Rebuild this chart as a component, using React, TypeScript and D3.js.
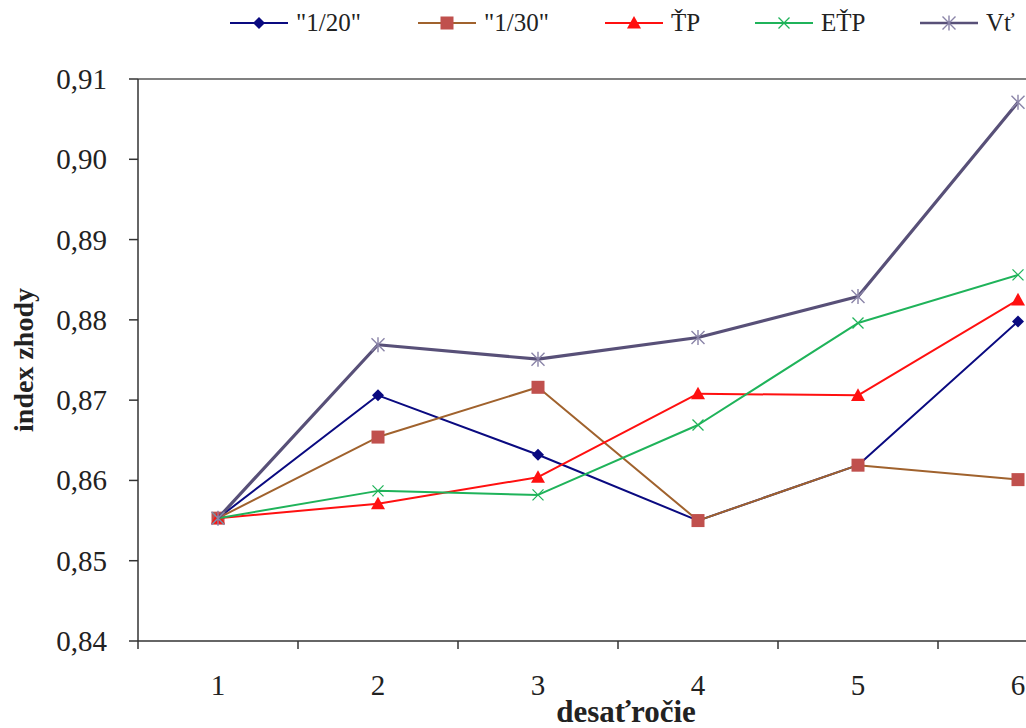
import React from "react";
import * as d3 from "d3";

const categories = ["1", "2", "3", "4", "5", "6"];
const yTicks = [0.84, 0.85, 0.86, 0.87, 0.88, 0.89, 0.9, 0.91];
const s120 = [0.8553, 0.8706, 0.8632, 0.855, 0.8619, 0.8798];
const s130 = [0.8553, 0.8654, 0.8716, 0.855, 0.8619, 0.8601];
const sTP = [0.8553, 0.8571, 0.8604, 0.8708, 0.8706, 0.8825];
const sETP = [0.8553, 0.8587, 0.8582, 0.8669, 0.8796, 0.8856];
const sVt = [0.8553, 0.8769, 0.8751, 0.8778, 0.8829, 0.9071];

const seriesNames = ['"1/20"', '"1/30"', "ŤP", "EŤP", "Vť"];
const seriesData = [s120, s130, sTP, sETP, sVt];
const lineColors = ["#0a0a80", "#a0622d", "#ff1010", "#1fb35a", "#585078"];
const markerColors = ["#0a0a80", "#c0504d", "#ff1010", "#1fb35a", "#8a84a8"];
const markerTypes = ["diamond", "square", "triangle", "x", "star"];
const lineWidths = [2, 2, 2, 2, 3.2];
const legendX = [230, 418, 605, 755, 920];

const FONT = '"Liberation Serif", "Times New Roman", Times, serif';

function Marker({ type, x, y, color }: { type: string; x: number; y: number; color: string }) {
  if (type === "diamond") {
    const r = 6;
    return <path d={`M${x},${y - r}L${x + r},${y}L${x},${y + r}L${x - r},${y}Z`} fill={color} />;
  }
  if (type === "square") {
    const r = 6.5;
    return <rect x={x - r} y={y - r} width={2 * r} height={2 * r} fill={color} />;
  }
  if (type === "triangle") {
    const r = 7;
    return <path d={`M${x},${y - r}L${x + r},${y + r * 0.8}L${x - r},${y + r * 0.8}Z`} fill={color} />;
  }
  if (type === "x") {
    const r = 5.5;
    return (
      <path
        d={`M${x - r},${y - r}L${x + r},${y + r}M${x - r},${y + r}L${x + r},${y - r}`}
        stroke={color}
        strokeWidth={1.3}
        fill="none"
      />
    );
  }
  const r = 6.5;
  return (
    <path
      d={`M${x - r},${y - r}L${x + r},${y + r}M${x - r},${y + r}L${x + r},${y - r}M${x},${y - r - 1}L${x},${y + r + 1}`}
      stroke={color}
      strokeWidth={1.4}
      fill="none"
    />
  );
}

export default function App() {
  const left = 138;
  const top = 79;
  const bottom = 641;
  const right = 1098;

  const x = d3.scaleBand<string>().domain(categories).range([left, right]).padding(0);
  const y = d3.scaleLinear().domain([0.84, 0.91]).range([bottom, top]);
  const cx = (c: string) => (x(c) as number) + x.bandwidth() / 2;
  const line = d3
    .line<number>()
    .x((_, i) => cx(categories[i]))
    .y((d) => y(d));

  const fmt = (v: number) => v.toFixed(2).replace(".", ",");
  const ts = { fontFamily: FONT };

  return (
    <svg
      width={1026}
      height={728}
      style={{ position: "absolute", left: 0, top: 0, background: "#fff", fontFamily: FONT }}
    >
      <rect x={0} y={0} width={1026} height={728} fill="#fff" />
      <line x1={left} x2={right} y1={top} y2={top} stroke="#808080" strokeWidth={2} />
      <line x1={right} x2={right} y1={top} y2={bottom} stroke="#808080" strokeWidth={2} />
      <line x1={left} x2={left} y1={top} y2={bottom + 8} stroke="#333" strokeWidth={1.5} />
      {yTicks.map((t) => (
        <g key={t}>
          <line x1={left - 9} x2={left} y1={y(t)} y2={y(t)} stroke="#333" strokeWidth={1.5} />
          <text x={107} y={y(t) + 10} textAnchor="end" fontSize={29} fill="#222" style={ts}>
            {fmt(t)}
          </text>
        </g>
      ))}
      <line x1={left} x2={right} y1={bottom} y2={bottom} stroke="#333" strokeWidth={1.5} />
      {categories.map((c) => (
        <g key={c}>
          <line
            x1={(x(c) as number) + x.bandwidth()}
            x2={(x(c) as number) + x.bandwidth()}
            y1={bottom}
            y2={bottom + 8}
            stroke="#333"
            strokeWidth={1.5}
          />
          <text x={cx(c)} y={695} textAnchor="middle" fontSize={29} fill="#222" style={ts}>
            {c}
          </text>
        </g>
      ))}
      <text
        transform={`translate(33,360) rotate(-90)`}
        textAnchor="middle"
        fontSize={28}
        fontWeight="bold"
        fill="#222"
        style={ts}
      >
        index zhody
      </text>
      <text x={626} y={722} textAnchor="middle" fontSize={31} fontWeight="bold" fill="#222" style={ts}>
        desaťročie
      </text>
      {seriesData.map((data, si) => (
        <g key={si}>
          <path
            d={line(data) || ""}
            fill="none"
            stroke={lineColors[si]}
            strokeWidth={lineWidths[si]}
            strokeLinejoin="round"
          />
          {data.map((v, i) => (
            <Marker key={i} type={markerTypes[si]} x={cx(categories[i])} y={y(v)} color={markerColors[si]} />
          ))}
        </g>
      ))}
      {seriesNames.map((n, si) => (
        <g key={n}>
          <line
            x1={legendX[si]}
            x2={legendX[si] + 58}
            y1={23}
            y2={23}
            stroke={lineColors[si]}
            strokeWidth={si === 4 ? 2.5 : 2}
          />
          <Marker type={markerTypes[si]} x={legendX[si] + 29} y={23} color={markerColors[si]} />
          <text x={legendX[si] + 66} y={31} fontSize={25} fill="#222" style={ts}>
            {n}
          </text>
        </g>
      ))}
    </svg>
  );
}
